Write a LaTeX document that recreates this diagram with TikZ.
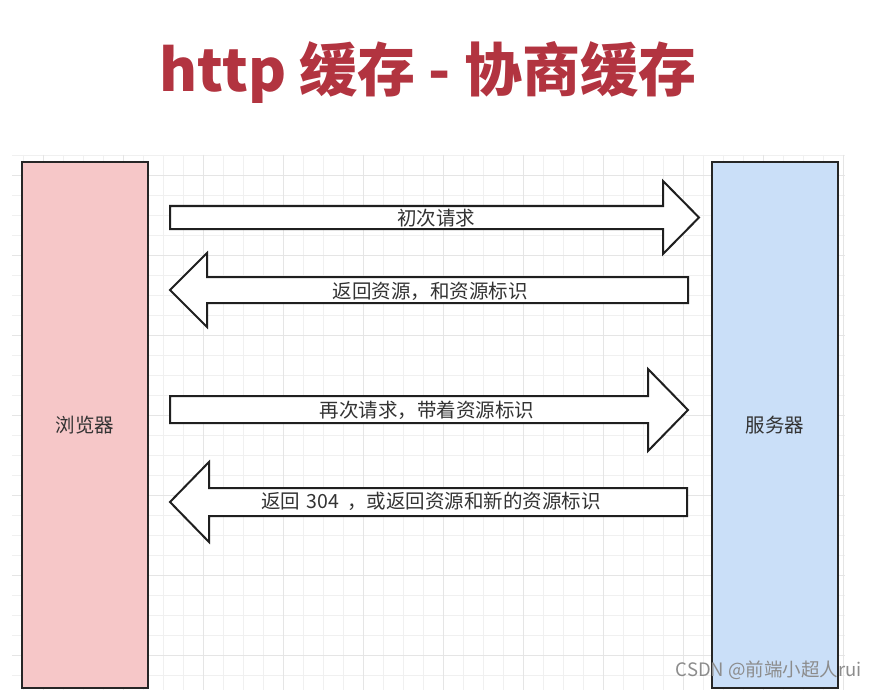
\documentclass[tikz,border=0pt]{standalone}
\usepackage{fontspec}
\setmainfont{Noto Sans CJK SC}
\begin{document}
\begin{tikzpicture}[x=1pt,y=-1pt,
  gridminor/.style={draw=black!6,line width=0.8pt},
  gridmajor/.style={draw=black!10,line width=0.9pt},
  blockarrow/.style={draw=black!88,line width=2pt,fill=white,line join=miter},
  lbl/.style={font=\fontsize{19.5}{22}\selectfont,text=black!80,inner sep=0pt},
  party/.style={draw=black!85,line width=2pt,minimum width=126pt,minimum height=526pt,inner sep=0pt}
]
\definecolor{titlered}{RGB}{178,52,64}
\definecolor{pinkfill}{RGB}{246,199,200}
\definecolor{bluefill}{RGB}{202,223,248}
\useasboundingbox (0,0) rectangle (876,690);
\fill[white] (0,0) rectangle (876,690);
% grid
\foreach \gx in {23,43,...,843} {\draw[gridminor] (\gx,155) -- (\gx,690);}
\foreach \gy in {155,175,...,675} {\draw[gridminor] (12,\gy) -- (845,\gy);}
\foreach \gx in {43,123,...,843} {\draw[gridmajor] (\gx,155) -- (\gx,690);}
\foreach \gy in {175,255,...,655} {\draw[gridmajor] (12,\gy) -- (845,\gy);}
% title
\node[font=\fontsize{58}{60}\selectfont\bfseries,text=titlered,inner sep=0pt] (title) at (428,73) {http 缓存 - 协商缓存};
% parties
\node[party,fill=pinkfill] (browser) at (85,425) {};
\node[lbl] (browserlbl) at (browser.center) {浏览器};
\node[party,fill=bluefill] (server) at (775,425) {};
\node[lbl] (serverlbl) at (server.center) {服务器};
% arrow 1: right
\draw[blockarrow] (170,206) -- (663,206) -- (663,181) -- (699,217.5) -- (663,254) -- (663,229) -- (170,229) -- cycle;
\node[lbl] (a1) at (436,218) {初次请求};
% arrow 2: left
\draw[blockarrow] (688,277) -- (207,277) -- (207,253) -- (170,290) -- (207,327) -- (207,303) -- (688,303) -- cycle;
\node[lbl] (a2) at (430,291) {返回资源，和资源标识};
% arrow 3: right
\draw[blockarrow] (170,396) -- (648,396) -- (648,369) -- (688,410) -- (648,451) -- (648,423) -- (170,423) -- cycle;
\node[lbl] (a3) at (427,410) {再次请求，带着资源标识};
% arrow 4: left
\draw[blockarrow] (687,488) -- (209,488) -- (209,462) -- (170,502) -- (209,542) -- (209,516) -- (687,516) -- cycle;
\node[lbl] (a4) at (431,501) {返回\hspace{7pt}304\hspace{8pt}，或返回资源和新的资源标识};
% watermark
\node[font=\fontsize{18.5}{20}\selectfont,text=black!45,inner sep=0pt,anchor=east] (wm) at (862,670) {CSDN @前端小超人rui};
\end{tikzpicture}
\end{document}
